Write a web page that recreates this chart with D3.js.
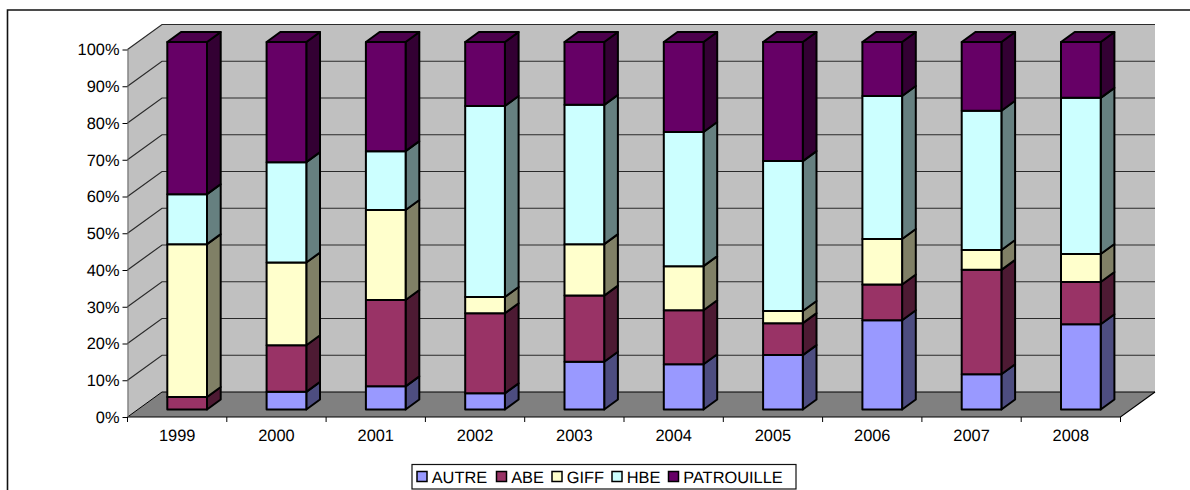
<!DOCTYPE html>
<html><head><meta charset="utf-8">
<script src="https://cdn.jsdelivr.net/npm/d3@7/dist/d3.min.js"></script>
<style>html,body{margin:0;padding:0;background:#fff}svg{display:block}text{font-family:"Liberation Sans",Arial,sans-serif;font-size:16.4px;fill:#000;text-rendering:geometricPrecision}</style>
</head><body><svg id="c" width="1190" height="490"></svg>
<script>
const years = ["1999","2000","2001","2002","2003","2004","2005","2006","2007","2008"];
const seriesNames = ["AUTRE","ABE","GIFF","HBE","PATROUILLE"];
const seriesColors = ["#9999ff","#993366","#ffffcc","#ccffff","#660066"];
const AUTRE = [0,4.8,6.3,4.4,13,12.3,14.8,24.3,9.6,23.2];
const ABE = [3.4,12.7,23.5,21.8,18,14.7,8.7,9.7,28.4,11.5];
const GIFF = [41.6,22.5,24.5,4.4,14,12,3.3,12.4,5.4,7.6];
const HBE = [13.6,27.3,16,52,37.9,36.5,40.8,38.9,37.9,42.5];
const PATROUILLE = [41.4,32.7,29.7,17.4,17.1,24.5,32.4,14.7,18.7,15.2];
const seriesValues = [AUTRE,ABE,GIFF,HBE,PATROUILLE];
const yTicks = [0,10,20,30,40,50,60,70,80,90,100];

const svg = d3.select("#c");
const L=127.5,R=1120.5,B=417,T=49.5,DX=34.5,DY=-25;
const x = d3.scaleBand().domain(years).range([L,R]);
const y = d3.scaleLinear().domain([0,100]).range([B,T]);
const poly=(pts,fill,stroke,sw)=>svg.append("polygon").attr("points",pts.map(p=>p.join(",")).join(" "))
  .attr("fill",fill).attr("stroke",stroke||"none").attr("stroke-width",sw||0).attr("stroke-linejoin","round");

// chart-area frame: open on the right, cropped at the bottom
svg.append("path").attr("d","M7.5,490V10H1190").attr("fill","none").attr("stroke","#111").attr("stroke-width",1.6);

// walls and floor
poly([[L,B],[L+DX,B+DY],[L+DX,T+DY],[L,T]],"#c0c0c0");
poly([[L+DX,B+DY],[R+DX,B+DY],[R+DX,T+DY],[L+DX,T+DY]],"#c0c0c0");
poly([[L,B],[R,B],[R+DX,B+DY],[L+DX,B+DY]],"#808080");

// gridlines
yTicks.forEach(t=>{
  const yy=y(t);
  svg.append("path").attr("d",`M${L},${yy}L${L+DX},${yy+DY}L${R+DX},${yy+DY}`)
    .attr("fill","none").attr("stroke",t===0?"#000":"#2a2a2a").attr("stroke-width",t===0?1:1.2);
});
svg.append("path").attr("d",`M${L},${B}L${R},${B}L${R+DX},${B+DY}`).attr("fill","none").attr("stroke","#000").attr("stroke-width",1.2);

// axes
const yAxis=d3.axisLeft(y).tickValues(yTicks).tickFormat(d=>d+"%").tickSize(5).tickSizeOuter(0).tickPadding(3);
const gy=svg.append("g").attr("transform",`translate(${L},0)`).call(yAxis);
const xAxis=d3.axisBottom(x).tickSize(0).tickPadding(12.4);
const gx=svg.append("g").attr("transform",`translate(0,${B})`).call(xAxis);
gx.select(".domain").remove();
[...years.map(d=>x(d)),R].forEach(v=>svg.append("line").attr("x1",v).attr("x2",v).attr("y1",B).attr("y2",B+5).attr("stroke","#000"));
svg.selectAll(".tick text").style("font-family",'"Liberation Sans",Arial,sans-serif').style("font-size","16.4px").attr("fill","#000");
gy.selectAll(".domain").attr("stroke","#666");

// bars
const barW=39.7, ox=10, oy=-7.5, sx=13.7, sy=-10;
const shade=(c,k)=>{const q=d3.rgb(c);return d3.rgb(q.r*k,q.g*k,q.b*k).formatRgb();};
years.forEach((yr,i)=>{
  const cx=x(yr)+x.bandwidth()/2+ox, x0=cx-barW/2, x1=cx+barW/2;
  let acc=0;
  seriesValues.forEach((vals,s)=>{
    const v=vals[i]; if(v<=0){return;}
    const yb=y(acc)+oy, yt=y(acc+v)+oy; acc+=v;
    const c=seriesColors[s];
    poly([[x1,yb],[x1+sx,yb+sy],[x1+sx,yt+sy],[x1,yt]],shade(c,.5),"#000",2);
    poly([[x0,yb],[x1,yb],[x1,yt],[x0,yt]],c,"#000",2);
    if(s===seriesValues.length-1) poly([[x0,yt],[x1,yt],[x1+sx,yt+sy],[x0+sx,yt+sy]],shade(c,.75),"#000",2);
  });
});

// legend
const lg=svg.append("g");
lg.append("rect").attr("x",412).attr("y",464.5).attr("width",384).attr("height",24.5).attr("fill","#fff").attr("stroke","#111").attr("stroke-width",1.2);
const lx=[417,496.5,552,612,668.5];
seriesNames.forEach((n,i)=>{
  lg.append("rect").attr("x",lx[i]).attr("y",471.5).attr("width",10).attr("height",10).attr("fill",seriesColors[i]).attr("stroke","#000").attr("stroke-width",1.5);
  lg.append("text").attr("x",lx[i]+14.7).attr("y",482.5).text(n);
});
</script></body></html>
